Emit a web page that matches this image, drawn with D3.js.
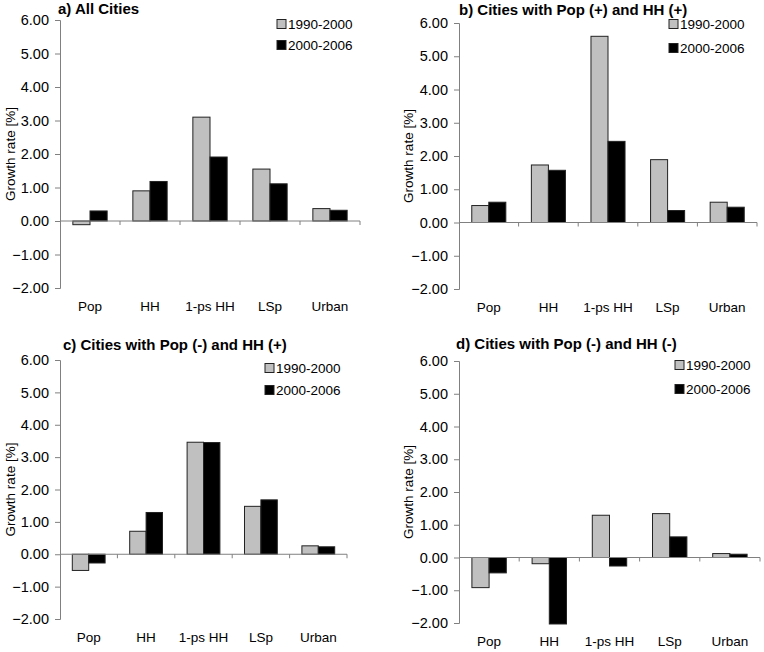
<!DOCTYPE html>
<html><head><meta charset="utf-8">
<script src="https://cdn.jsdelivr.net/npm/d3@7"></script>
<style>body{margin:0;background:#fff}svg{display:block}text{font-family:"Liberation Sans",Arial,sans-serif}</style>
</head><body>
<svg id="c" width="764" height="652"></svg>
<script>
const categories = ["Pop", "HH", "1-ps HH", "LSp", "Urban"];
const seriesNames = ["1990-2000", "2000-2006"];
const yTicks = [-2, -1, 0, 1, 2, 3, 4, 5, 6];
const titles = ["a) All Cities", "b) Cities with Pop (+) and HH (+)", "c) Cities with Pop (-) and HH (+)", "d) Cities with Pop (-) and HH (-)"];
const a1990 = [-0.11, 0.90, 3.10, 1.55, 0.37];
const a2000 = [0.30, 1.18, 1.91, 1.11, 0.32];
const b1990 = [0.51, 1.73, 5.60, 1.89, 0.61];
const b2000 = [0.61, 1.57, 2.44, 0.36, 0.46];
const c1990 = [-0.50, 0.71, 3.46, 1.48, 0.26];
const c2000 = [-0.27, 1.29, 3.45, 1.68, 0.23];
const d1990 = [-0.92, -0.19, 1.29, 1.34, 0.12];
const d2000 = [-0.47, -2.03, -0.26, 0.63, 0.10];

const panels = [
  {title: titles[0], s: [a1990, a2000], x0: 60, x1: 360, yT: 20, yB: 288, tx: 58, ty: 14, lx: 277, ly: [24, 45], labX: 10},
  {title: titles[1], s: [b1990, b2000], x0: 459, x1: 757, yT: 23, yB: 289, tx: 459, ty: 15, lx: 669, ly: [24, 48], labX: 408},
  {title: titles[2], s: [c1990, c2000], x0: 60, x1: 347, yT: 360, yB: 619, tx: 63, ty: 350, lx: 265, ly: [368, 390], labX: 10},
  {title: titles[3], s: [d1990, d2000], x0: 459, x1: 760, yT: 361, yB: 623, tx: 456, ty: 349, lx: 675, ly: [365, 389], labX: 408}
];
const fills = ["#c0c0c0", "#000000"];
const svg = d3.select("#c");

panels.forEach(p => {
  const g = svg.append("g");
  const y = d3.scaleLinear().domain([-2, 6]).range([p.yB, p.yT]);
  const x = d3.scaleBand().domain(categories).range([p.x0, p.x1]).paddingInner(0).paddingOuter(0);
  const inner = d3.scaleBand().domain([0, 1]).range([0, x.bandwidth()]).paddingInner(0).paddingOuter(0.75);

  // y axis
  const ya = g.append("g").attr("transform", `translate(${p.x0},0)`)
    .call(d3.axisLeft(y).tickValues(yTicks).tickFormat(d3.format(".2f")).tickSize(5).tickPadding(6));
  ya.select(".domain").attr("stroke", "#808080");
  ya.selectAll(".tick line").attr("stroke", "#808080");
  ya.selectAll(".tick text").attr("font-size", 14.5).attr("fill", "#000").attr("font-family", "Liberation Sans, Arial, sans-serif");

  // bars
  p.s.forEach((vals, si) => {
    g.selectAll(null).data(vals).enter().append("rect")
      .attr("x", (d, i) => x(categories[i]) + inner(si))
      .attr("width", inner.bandwidth())
      .attr("y", d => y(Math.max(0, d)))
      .attr("height", d => Math.abs(y(d) - y(0)))
      .attr("fill", fills[si]).attr("stroke", "#222").attr("stroke-width", 1);
  });

  // x axis at zero
  const y0 = y(0);
  g.append("line").attr("x1", p.x0).attr("x2", p.x1).attr("y1", y0).attr("y2", y0).attr("stroke", "#808080");
  const bounds = categories.map(c => x(c) + x.bandwidth());
  g.selectAll(null).data(bounds).enter().append("line")
    .attr("x1", d => d).attr("x2", d => d).attr("y1", y0).attr("y2", y0 + 4).attr("stroke", "#808080");
  g.selectAll(null).data(categories).enter().append("text")
    .attr("x", d => x(d) + x.bandwidth() / 2).attr("y", p.yB + 23)
    .attr("text-anchor", "middle").attr("font-size", 13.5).text(d => d);

  // y label
  g.append("text").attr("transform", `translate(${p.labX + 5},${(p.yT + p.yB) / 2}) rotate(-90)`)
    .attr("text-anchor", "middle").attr("font-size", 13.5).text("Growth rate [%]");

  // title
  g.append("text").attr("x", p.tx).attr("y", p.ty).attr("font-size", 15).attr("font-weight", "bold").text(p.title);

  // legend
  seriesNames.forEach((n, i) => {
    g.append("rect").attr("x", p.lx).attr("y", p.ly[i] - 4.5).attr("width", 9).attr("height", 9)
      .attr("fill", fills[i]).attr("stroke", "#222");
    g.append("text").attr("x", p.lx + 11).attr("y", p.ly[i] + 5).attr("font-size", 13.5).text(n);
  });
});
</script>
</body></html>
